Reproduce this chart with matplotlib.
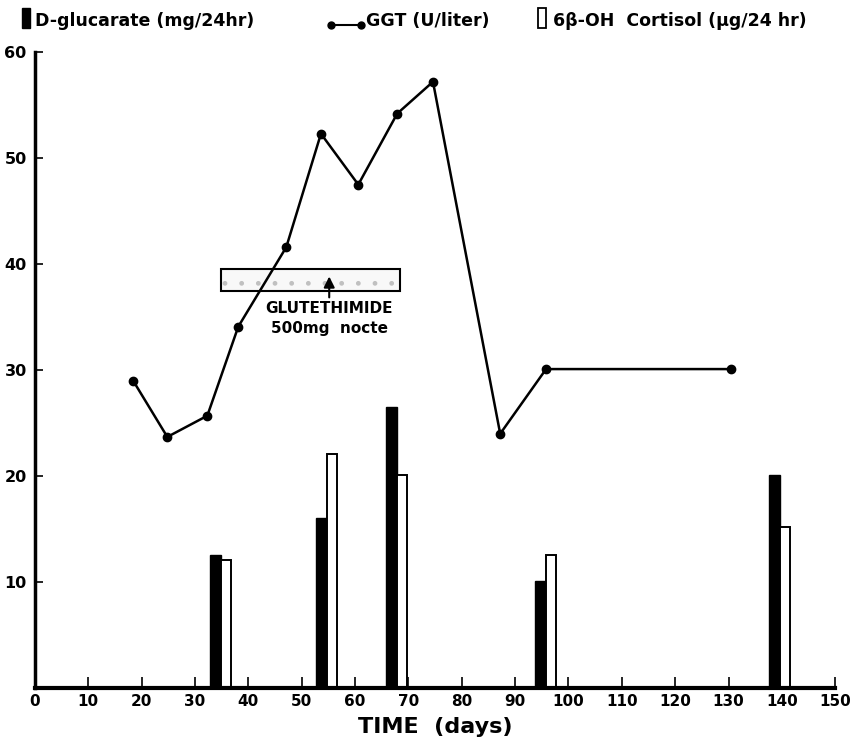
import numpy as np
import matplotlib.pyplot as plt
from matplotlib.patches import Rectangle
from matplotlib.lines import Line2D

plt.rcParams['font.family'] = ['DejaVu Sans']
plt.rcParams['font.weight'] = 'bold'

# GGT (U/liter)
ggt_days = [18.4, 24.8, 32.3, 38.1, 47.1, 53.6, 60.6, 67.9, 74.6, 87.2, 95.8, 130.5]
ggt_vals = [29.0, 23.7, 25.7, 34.1, 41.6, 52.3, 47.5, 54.2, 57.2, 24.0, 30.1, 30.1]

# urine samples
sample_days = [34.9, 54.8, 67.8, 95.8, 139.7]
glucarate = [12.6, 16.1, 26.5, 10.1, 20.1]   # mg/24hr
cortisol = [12.1, 22.1, 20.1, 12.6, 15.2]    # ug/24 hr

# glutethimide period
drug_start = 34.9
drug_end = 68.4

fig = plt.figure(figsize=(8.54, 7.44), dpi=100)
ax = fig.add_axes([0.041, 0.075, 0.937, 0.855])

w = 2.1
ax.bar(np.array(sample_days) - w / 2, glucarate, width=w, color='black',
       edgecolor='black', linewidth=1, zorder=2)
ax.bar(np.array(sample_days) + w / 2 - 0.1, cortisol, width=w - 0.2, color='white',
       edgecolor='black', linewidth=1.4, zorder=2)

ax.plot(ggt_days, ggt_vals, color='black', lw=1.8, marker='o', ms=6, zorder=3)

# drug box + arrow
ax.add_patch(Rectangle((drug_start, 37.5), drug_end - drug_start, 2.0,
                       facecolor='#f8f8f8', edgecolor='#c0c0c0', lw=0, hatch='.',
                       zorder=1))
ax.add_patch(Rectangle((drug_start, 37.5), drug_end - drug_start, 2.0,
                       facecolor='none', edgecolor='black', lw=1.5, zorder=1))
mid = (drug_start + drug_end) / 2 + 3.5
ax.annotate('', xy=(mid, 39.1), xytext=(mid, 36.6),
            arrowprops=dict(arrowstyle='-|>', color='black', lw=1.5, mutation_scale=16),
            zorder=4)
ax.text(mid, 35.85, 'GLUTETHIMIDE', ha='center', va='center', fontsize=11)
ax.text(mid, 33.9, '500mg  nocte', ha='center', va='center', fontsize=11)

ax.set_xlim(0, 150)
ax.set_ylim(0, 60)
ax.set_xticks(np.arange(0, 151, 10))
ax.set_yticks([10, 20, 30, 40, 50, 60])
ax.tick_params(axis='x', direction='in', length=8, width=1.2, labelsize=11, pad=4)
ax.tick_params(axis='y', direction='in', length=6, width=1.2, labelsize=11.5, pad=6)
for s in ['top', 'right']:
    ax.spines[s].set_visible(False)
ax.spines['left'].set_linewidth(2.5)
ax.spines['bottom'].set_linewidth(3)
ax.set_xlabel('TIME  (days)', fontsize=16, fontweight='bold', labelpad=6)

# legend drawn at top
fig.add_artist(Rectangle((0.026, 0.962), 0.009, 0.027, transform=fig.transFigure,
                         facecolor='black', edgecolor='black'))
fig.text(0.041, 0.972, 'D-glucarate (mg/24hr)', fontsize=12.5, va='center')
fig.add_artist(Line2D([0.388, 0.423], [0.967, 0.967], transform=fig.transFigure,
                      color='black', lw=1.5, marker='o', ms=5))
fig.text(0.429, 0.972, 'GGT (U/liter)', fontsize=12.5, va='center')
fig.add_artist(Rectangle((0.630, 0.962), 0.009, 0.027, transform=fig.transFigure,
                         facecolor='white', edgecolor='black', lw=1.3))
fig.text(0.648, 0.972, '6β-OH  Cortisol (µg/24 hr)', fontsize=12.5, va='center')

fig.savefig('out.png', dpi=100)
